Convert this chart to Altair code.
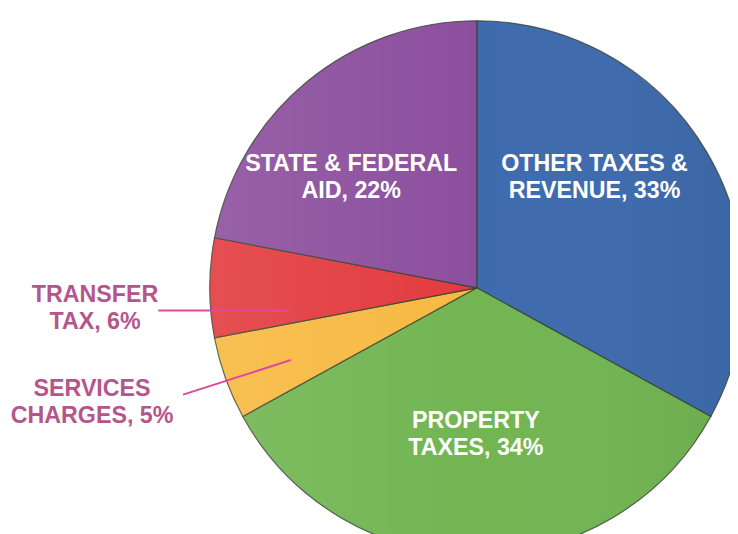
import altair as alt
import pandas as pd

categories = ["OTHER TAXES & REVENUE", "PROPERTY TAXES", "SERVICES CHARGES", "TRANSFER TAX", "STATE & FEDERAL AID"]
shares = [33, 34, 5, 6, 22]
colors = ["#3e6bae", "#72b552", "#f7b941", "#e23b3f", "#8c4f9e"]

df = pd.DataFrame({"category": categories, "share": shares, "idx": list(range(len(categories)))})

CX, CY, R = 474, 280, 270

pie = alt.Chart(df).mark_arc(outerRadius=R, stroke="#33402f", strokeWidth=1.2, strokeOpacity=0.8).encode(
    theta=alt.Theta("share:Q", stack=True),
    order=alt.Order("idx:Q"),
    color=alt.Color("category:N", scale=alt.Scale(domain=categories, range=colors), legend=None),
    x=alt.value(CX), y=alt.value(CY),
)

shade = alt.Chart(df).mark_arc(
    outerRadius=R, theta=0, theta2=6.2832,
    fill=alt.Gradient(
        gradient="linear", x1=0, x2=1, y1=0, y2=0,
        stops=[alt.GradientStop(color="rgba(255,255,255,0.10)", offset=0),
               alt.GradientStop(color="rgba(255,255,255,0.0)", offset=0.5),
               alt.GradientStop(color="rgba(0,0,0,0.06)", offset=1)],
    ),
).encode(x=alt.value(CX), y=alt.value(CY)).transform_filter("datum.idx == 0")

def label(lines, x, y, color):
    return alt.Chart(df).mark_text(
        text=lines, font="Liberation Sans", fontWeight="bold", fontSize=23.5,
        color=color, align="center", baseline="middle", lineHeight=27.5,
    ).encode(x=alt.value(x), y=alt.value(y)).transform_filter("datum.idx == 0")

white = "#ffffff"
pink = "#b5558b"
labels = [
    label(["OTHER TAXES &", "REVENUE, 33%"], 593, 155, white),
    label(["STATE & FEDERAL", "AID, 22%"], 347, 155, white),
    label(["PROPERTY", "TAXES, 34%"], 473, 415, white),
    label(["TRANSFER", "TAX, 6%"], 88, 287, pink),
    label(["SERVICES", "CHARGES, 5%"], 85, 382, pink),
]

line_color = "#e0489b"
lead1 = alt.Chart(df).mark_rule(color=line_color, strokeWidth=2).encode(
    x=alt.value(152), x2=alt.value(285), y=alt.value(303), y2=alt.value(303)
).transform_filter("datum.idx == 0")
lead2 = alt.Chart(df).mark_rule(color=line_color, strokeWidth=2).encode(
    x=alt.value(177), x2=alt.value(286), y=alt.value(388), y2=alt.value(353)
).transform_filter("datum.idx == 0")

chart = alt.layer(pie, shade, lead1, lead2, *labels).properties(
    width=730, height=526, padding=0, autosize=alt.AutoSizeParams(type="none")
).configure_view(stroke=None)

chart.save("out.html", embed_options={"renderer": "svg", "actions": False})
